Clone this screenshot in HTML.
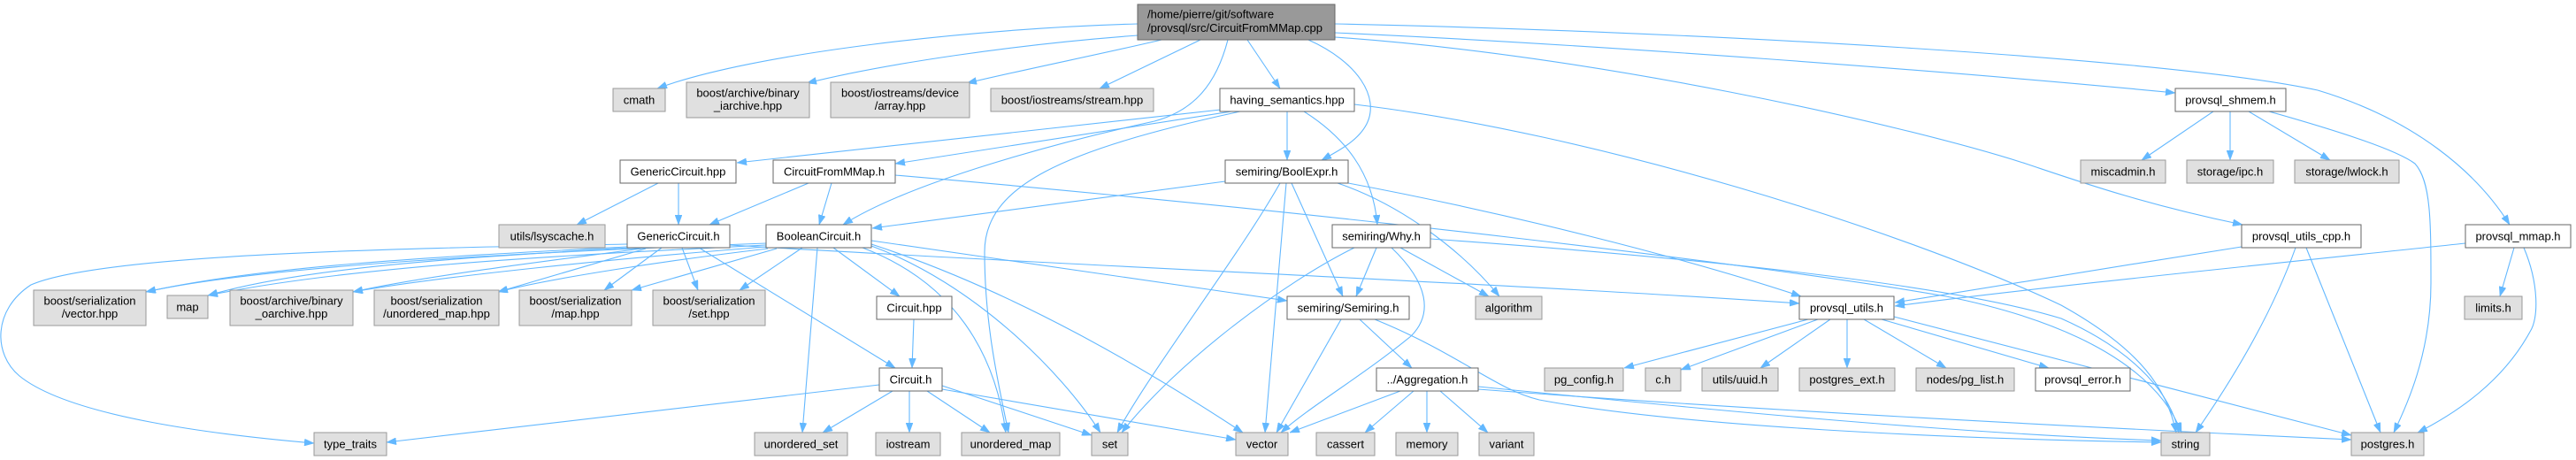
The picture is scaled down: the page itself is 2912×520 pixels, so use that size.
<!DOCTYPE html>
<html>
<head>
<meta charset="utf-8">
<style>
html,body{margin:0;padding:0;background:#fff;}
svg{display:block;}
text{font-family:"Liberation Sans",Arial,sans-serif;font-size:13px;fill:#000;}
</style>
</head>
<body>
<svg width="2912" height="520" viewBox="0 0 2912 520" xmlns="http://www.w3.org/2000/svg">
<defs>
<marker id="a" markerWidth="11" markerHeight="8" refX="11" refY="4" orient="auto" markerUnits="userSpaceOnUse">
<path d="M0,0 L11,4 L0,8 z" fill="#63b8ff" stroke="#63b8ff" stroke-width="0.5"/>
</marker>
</defs>
<rect width="2912" height="520" fill="#fff"/>
<g fill="none" stroke="#63b8ff" stroke-width="1.1" marker-end="url(#a)">
<!-- root -->
<path d="M1286,27 C1100,32 850,60 743,100"/>
<path d="M1286,40 C1150,50 1000,72 912,94"/>
<path d="M1313,45 C1250,60 1160,78 1093,94"/>
<path d="M1357,45 L1243,100"/>
<path d="M1410,45 L1447,100"/>
<path d="M1479,45 C1535,70 1560,110 1545,140 C1535,160 1510,172 1494,181"/>
<path d="M1388,45 C1375,95 1350,125 1305,137 C1200,160 1030,205 953,254"/>
<path d="M1509,37 C1800,50 2200,80 2459,105"/>
<path d="M1509,27 C1900,35 2450,65 2620,102 C2730,135 2800,195 2837,254"/>
<path d="M1509,42 C1800,62 2150,140 2290,185 C2350,205 2420,230 2535,254"/>
<!-- having -->
<path d="M1380,124 L833,184"/>
<path d="M1392,126 L1012,185"/>
<path d="M1402,126 C1200,170 1113,210 1113,285 C1113,370 1130,440 1140,489"/>
<path d="M1455,126 L1455,181"/>
<path d="M1474,126 C1520,155 1552,195 1557,254"/>
<path d="M1531,118 C1800,150 2150,260 2330,345 C2420,395 2450,440 2460,489"/>
<!-- GenericCircuit.hpp -->
<path d="M744,207 L652,254"/>
<path d="M767,207 L767,254"/>
<!-- CircuitFromMMap.h -->
<path d="M914,207 L802,254"/>
<path d="M940,207 L926,254"/>
<path d="M1012,198 C1500,240 2000,300 2200,335 C2350,365 2440,420 2466,489"/>
<!-- BoolExpr -->
<path d="M1385,205 L986,258"/>
<path d="M1447,207 C1400,290 1300,420 1263,489"/>
<path d="M1454,207 L1430,489"/>
<path d="M1460,207 L1518,335"/>
<path d="M1512,207 C1580,230 1650,280 1695,335"/>
<path d="M1524,207 C1700,240 1900,290 2036,335"/>
<!-- GenericCircuit.h -->
<path d="M825,277 C1200,300 1700,320 2034,343"/>
<path d="M748,280 L683,328"/>
<path d="M771,280 L789,328"/>
<path d="M790,280 L1012,416"/>
<path d="M709,276 C500,280 120,285 35,322 C-8,350 -8,400 22,425 C80,472 250,492 355,501"/>
<path d="M709,279 C500,290 300,300 165,330"/>
<path d="M712,280 C550,290 350,300 235,334"/>
<path d="M725,281 C620,295 480,312 399,330"/>
<path d="M730,281 L563,330"/>
<!-- BooleanCircuit.h -->
<path d="M878,281 L714,328"/>
<path d="M907,280 L836,328"/>
<path d="M924,280 L907,489"/>
<path d="M942,280 L1017,335"/>
<path d="M975,280 C1080,320 1125,400 1137,489"/>
<path d="M985,278 C1100,320 1200,420 1244,489"/>
<path d="M985,276 C1150,330 1300,420 1405,489"/>
<path d="M985,272 L1455,340"/>
<path d="M866,275 C600,285 300,300 165,330"/>
<path d="M866,277 C650,288 400,300 235,334"/>
<path d="M866,279 C700,292 500,312 399,330"/>
<path d="M868,281 C750,295 620,315 563,330"/>
<!-- Why -->
<path d="M1531,280 C1450,320 1330,410 1268,489"/>
<path d="M1556,280 L1533,335"/>
<path d="M1573,280 C1615,320 1620,355 1595,380 C1540,425 1480,460 1448,489"/>
<path d="M1583,280 L1683,335"/>
<path d="M1617,270 C1900,290 2200,320 2330,360 C2420,400 2455,450 2463,489"/>
<!-- Circuit.hpp -->
<path d="M1033,361 L1031,416"/>
<!-- Circuit.h -->
<path d="M994,435 L437,500"/>
<path d="M1009,442 L930,489"/>
<path d="M1028,442 L1028,489"/>
<path d="M1048,442 L1119,489"/>
<path d="M1065,436 L1234,492"/>
<path d="M1065,440 L1397,497"/>
<!-- Semiring -->
<path d="M1516,361 L1443,489"/>
<path d="M1537,361 L1596,416"/>
<path d="M1554,361 C1650,400 1690,440 1740,452 C1900,482 2200,496 2443,500"/>
<!-- Aggregation -->
<path d="M1583,442 L1458,489"/>
<path d="M1598,442 L1543,489"/>
<path d="M1613,442 L1613,489"/>
<path d="M1628,442 L1682,489"/>
<path d="M1671,437 C1900,460 2200,490 2443,498"/>
<path d="M1671,440 C2000,465 2400,485 2658,497"/>
<!-- provsql_utils.h -->
<path d="M2044,361 L1836,416"/>
<path d="M2055,361 L1900,418"/>
<path d="M2069,361 L1990,416"/>
<path d="M2088,361 L2088,416"/>
<path d="M2107,361 L2200,416"/>
<path d="M2127,361 L2316,416"/>
<path d="M2141,358 L2658,492"/>
<!-- shmem -->
<path d="M2502,126 L2421,181"/>
<path d="M2521,126 L2521,181"/>
<path d="M2542,126 L2634,181"/>
<path d="M2565,126 C2650,150 2710,170 2730,185 C2748,205 2748,250 2748,320 C2748,400 2720,460 2706,489"/>
<!-- utils_cpp -->
<path d="M2534,279 C2400,300 2250,325 2142,342"/>
<path d="M2595,280 C2570,350 2530,420 2482,489"/>
<path d="M2607,280 L2691,489"/>
<!-- mmap -->
<path d="M2787,275 C2600,295 2300,325 2142,346"/>
<path d="M2842,280 L2826,335"/>
<path d="M2853,280 C2870,320 2870,360 2860,375 C2830,430 2780,465 2733,489"/>
</g>

<g stroke-width="1">
<!-- root -->
<rect x="1286" y="5" width="223" height="40" fill="#999999" stroke="#666666"/>
<text x="1297" y="20.5">/home/pierre/git/software</text>
<text x="1297" y="36">/provsql/src/CircuitFromMMap.cpp</text>
</g>

<g stroke-width="1" text-anchor="middle">
<!-- gray nodes -->
<g fill="#e0e0e0" stroke="#999999">
<rect x="693" y="100" width="59" height="26"/>
<rect x="776" y="93" width="139" height="40"/>
<rect x="939" y="93" width="157" height="40"/>
<rect x="1120" y="100" width="184" height="26"/>
<rect x="2352" y="181" width="96" height="26"/>
<rect x="2472" y="181" width="98" height="26"/>
<rect x="2594" y="181" width="118" height="26"/>
<rect x="564" y="254" width="120" height="26"/>
<rect x="38" y="328" width="127" height="40"/>
<rect x="189" y="334" width="46" height="26"/>
<rect x="260" y="328" width="139" height="40"/>
<rect x="423" y="328" width="141" height="40"/>
<rect x="587" y="328" width="127" height="40"/>
<rect x="738" y="328" width="127" height="40"/>
<rect x="1668" y="335" width="75" height="26"/>
<rect x="2786" y="335" width="65" height="26"/>
<rect x="1746" y="416" width="89" height="26"/>
<rect x="1860" y="416" width="40" height="26"/>
<rect x="1924" y="416" width="86" height="26"/>
<rect x="2034" y="416" width="108" height="26"/>
<rect x="2166" y="416" width="111" height="26"/>
<rect x="355" y="489" width="82" height="26"/>
<rect x="853" y="489" width="105" height="26"/>
<rect x="990" y="489" width="73" height="26"/>
<rect x="1087" y="489" width="111" height="26"/>
<rect x="1234" y="489" width="41" height="26"/>
<rect x="1397" y="489" width="59" height="26"/>
<rect x="1488" y="489" width="66" height="26"/>
<rect x="1578" y="489" width="70" height="26"/>
<rect x="1672" y="489" width="62" height="26"/>
<rect x="2443" y="489" width="55" height="26"/>
<rect x="2658" y="489" width="82" height="26"/>
</g>
<!-- white nodes -->
<g fill="#ffffff" stroke="#666666">
<rect x="1379" y="100" width="152" height="26"/>
<rect x="2459" y="100" width="125" height="26"/>
<rect x="701" y="181" width="131" height="26"/>
<rect x="874" y="181" width="138" height="26"/>
<rect x="1385" y="181" width="139" height="26"/>
<rect x="709" y="254" width="116" height="26"/>
<rect x="866" y="254" width="119" height="26"/>
<rect x="1506" y="254" width="111" height="26"/>
<rect x="2534" y="254" width="135" height="26"/>
<rect x="2787" y="254" width="119" height="26"/>
<rect x="991" y="335" width="85" height="26"/>
<rect x="1455" y="335" width="138" height="26"/>
<rect x="2034" y="335" width="107" height="26"/>
<rect x="994" y="416" width="71" height="26"/>
<rect x="1556" y="416" width="115" height="26"/>
<rect x="2301" y="416" width="107" height="26"/>
</g>

<!-- labels -->
<text x="722.5" y="117.5">cmath</text>
<text x="845.5" y="109.5">boost/archive/binary</text>
<text x="845.5" y="124">_iarchive.hpp</text>
<text x="1017.5" y="109.5">boost/iostreams/device</text>
<text x="1017.5" y="124">/array.hpp</text>
<text x="1212" y="117.5">boost/iostreams/stream.hpp</text>
<text x="1455" y="117.5">having_semantics.hpp</text>
<text x="2521.5" y="117.5">provsql_shmem.h</text>

<text x="766.5" y="198.5">GenericCircuit.hpp</text>
<text x="943" y="198.5">CircuitFromMMap.h</text>
<text x="1454.5" y="198.5">semiring/BoolExpr.h</text>
<text x="2400" y="198.5">miscadmin.h</text>
<text x="2521" y="198.5">storage/ipc.h</text>
<text x="2653" y="198.5">storage/lwlock.h</text>

<text x="624" y="271.5">utils/lsyscache.h</text>
<text x="767" y="271.5">GenericCircuit.h</text>
<text x="925.5" y="271.5">BooleanCircuit.h</text>
<text x="1561.5" y="271.5">semiring/Why.h</text>
<text x="2601.5" y="271.5">provsql_utils_cpp.h</text>
<text x="2846.5" y="271.5">provsql_mmap.h</text>

<text x="101.5" y="344.5">boost/serialization</text>
<text x="101.5" y="359">/vector.hpp</text>
<text x="212" y="351.5">map</text>
<text x="329.5" y="344.5">boost/archive/binary</text>
<text x="329.5" y="359">_oarchive.hpp</text>
<text x="493.5" y="344.5">boost/serialization</text>
<text x="493.5" y="359">/unordered_map.hpp</text>
<text x="650.5" y="344.5">boost/serialization</text>
<text x="650.5" y="359">/map.hpp</text>
<text x="801.5" y="344.5">boost/serialization</text>
<text x="801.5" y="359">/set.hpp</text>
<text x="1033.5" y="352.5">Circuit.hpp</text>
<text x="1524" y="352.5">semiring/Semiring.h</text>
<text x="1705.5" y="352.5">algorithm</text>
<text x="2087.5" y="352.5">provsql_utils.h</text>
<text x="2818.5" y="352.5">limits.h</text>

<text x="1029.5" y="433.5">Circuit.h</text>
<text x="1613.5" y="433.5">../Aggregation.h</text>
<text x="1790.5" y="433.5">pg_config.h</text>
<text x="1880" y="433.5">c.h</text>
<text x="1967" y="433.5">utils/uuid.h</text>
<text x="2088" y="433.5">postgres_ext.h</text>
<text x="2221.5" y="433.5">nodes/pg_list.h</text>
<text x="2354.5" y="433.5">provsql_error.h</text>

<text x="396" y="506.5">type_traits</text>
<text x="905.5" y="506.5">unordered_set</text>
<text x="1026.5" y="506.5">iostream</text>
<text x="1142.5" y="506.5">unordered_map</text>
<text x="1254.5" y="506.5">set</text>
<text x="1426.5" y="506.5">vector</text>
<text x="1521" y="506.5">cassert</text>
<text x="1613" y="506.5">memory</text>
<text x="1703" y="506.5">variant</text>
<text x="2470.5" y="506.5">string</text>
<text x="2699" y="506.5">postgres.h</text>
</g>
</svg>
</body>
</html>
